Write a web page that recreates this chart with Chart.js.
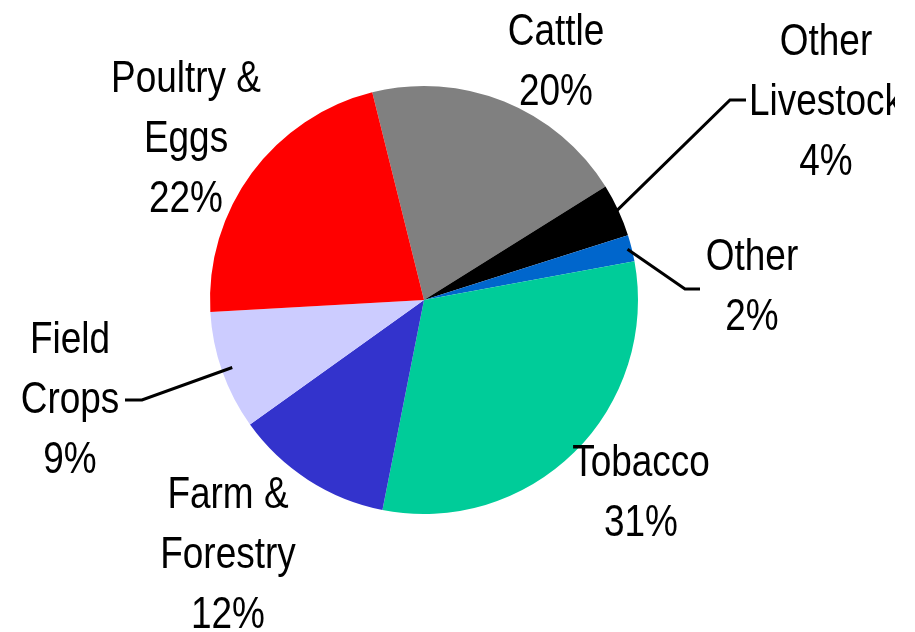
<!DOCTYPE html>
<html>
<head>
<meta charset="utf-8">
<script src="https://cdn.jsdelivr.net/npm/chart.js@4"></script>
<style>
html,body{margin:0;padding:0;background:#fff;}
#wrap{width:915px;height:632px;position:relative;}
</style>
</head>
<body>
<div id="wrap"><canvas id="c"></canvas></div>
<script>
// ---- data ----
const categories = ["Cattle", "Other Livestock", "Other", "Tobacco", "Farm & Forestry", "Field Crops", "Poultry & Eggs"];
const labelLines = [["Cattle"], ["Other", "Livestock"], ["Other"], ["Tobacco"], ["Farm &", "Forestry"], ["Field", "Crops"], ["Poultry &", "Eggs"]];
const shares = [20, 4, 2, 31, 12, 9, 22];
const colors = ["#808080", "#000000", "#0066CC", "#00CC99", "#3333CC", "#CCCCFF", "#FF0000"];

// ---- label layout (centre x, first baseline y) and leader lines ----
const labelPos = [
  {x: 556, y: 45},
  {x: 826, y: 55},
  {x: 752, y: 270},
  {x: 641, y: 476},
  {x: 228, y: 508},
  {x: 70,  y: 353},
  {x: 186, y: 92}
];
// leader: slice index, radius fraction, elbow point, end point
const leaders = [
  {i: 1, f: 0.99, elbow: [730, 100], end: [746, 100]},
  {i: 2, f: 0.98, elbow: [685, 289], end: [700, 289]},
  {i: 5, f: 0.95, elbow: [142, 400], end: [125, 400]}
];

const labelPlugin = {
  id: 'pieLabels',
  afterDatasetsDraw(chart) {
    const ctx = chart.ctx;
    const meta = chart.getDatasetMeta(0);
    ctx.save();
    // leader lines
    ctx.strokeStyle = '#000';
    ctx.lineWidth = 3;
    leaders.forEach(l => {
      const arc = meta.data[l.i];
      const p = arc.getProps(['x','y','startAngle','endAngle','outerRadius'], true);
      const mid = (p.startAngle + p.endAngle) / 2;
      const sx = p.x + Math.cos(mid) * p.outerRadius * l.f;
      const sy = p.y + Math.sin(mid) * p.outerRadius * l.f;
      ctx.beginPath();
      ctx.moveTo(sx, sy);
      ctx.lineTo(l.elbow[0], l.elbow[1]);
      ctx.lineTo(l.end[0], l.end[1]);
      ctx.stroke();
    });
    // text
    ctx.beginPath();
    ctx.rect(0, 0, 895, 632);
    ctx.clip();
    ctx.fillStyle = '#000';
    ctx.font = '44px "Liberation Sans", Arial, sans-serif';
    ctx.textAlign = 'center';
    ctx.textBaseline = 'alphabetic';
    const sx = 0.84;
    categories.forEach((c, i) => {
      const lines = labelLines[i].concat([shares[i] + '%']);
      const pos = labelPos[i];
      lines.forEach((t, k) => {
        ctx.save();
        ctx.translate(pos.x, pos.y + k * 60);
        ctx.scale(sx, 1);
        ctx.fillText(t, 0, 0);
        ctx.restore();
      });
    });
    ctx.restore();
  }
};

new Chart(document.getElementById('c'), {
  type: 'pie',
  data: {
    labels: categories,
    datasets: [{
      data: shares,
      backgroundColor: colors,
      borderWidth: 0
    }]
  },
  options: {
    responsive: true,
    maintainAspectRatio: false,
    animation: false,
    rotation: -14,
    layout: {padding: {left: 210, right: 277, top: 86, bottom: 118}},
    plugins: {legend: {display: false}, tooltip: {enabled: false}}
  },
  plugins: [labelPlugin]
});
</script>
</body>
</html>
